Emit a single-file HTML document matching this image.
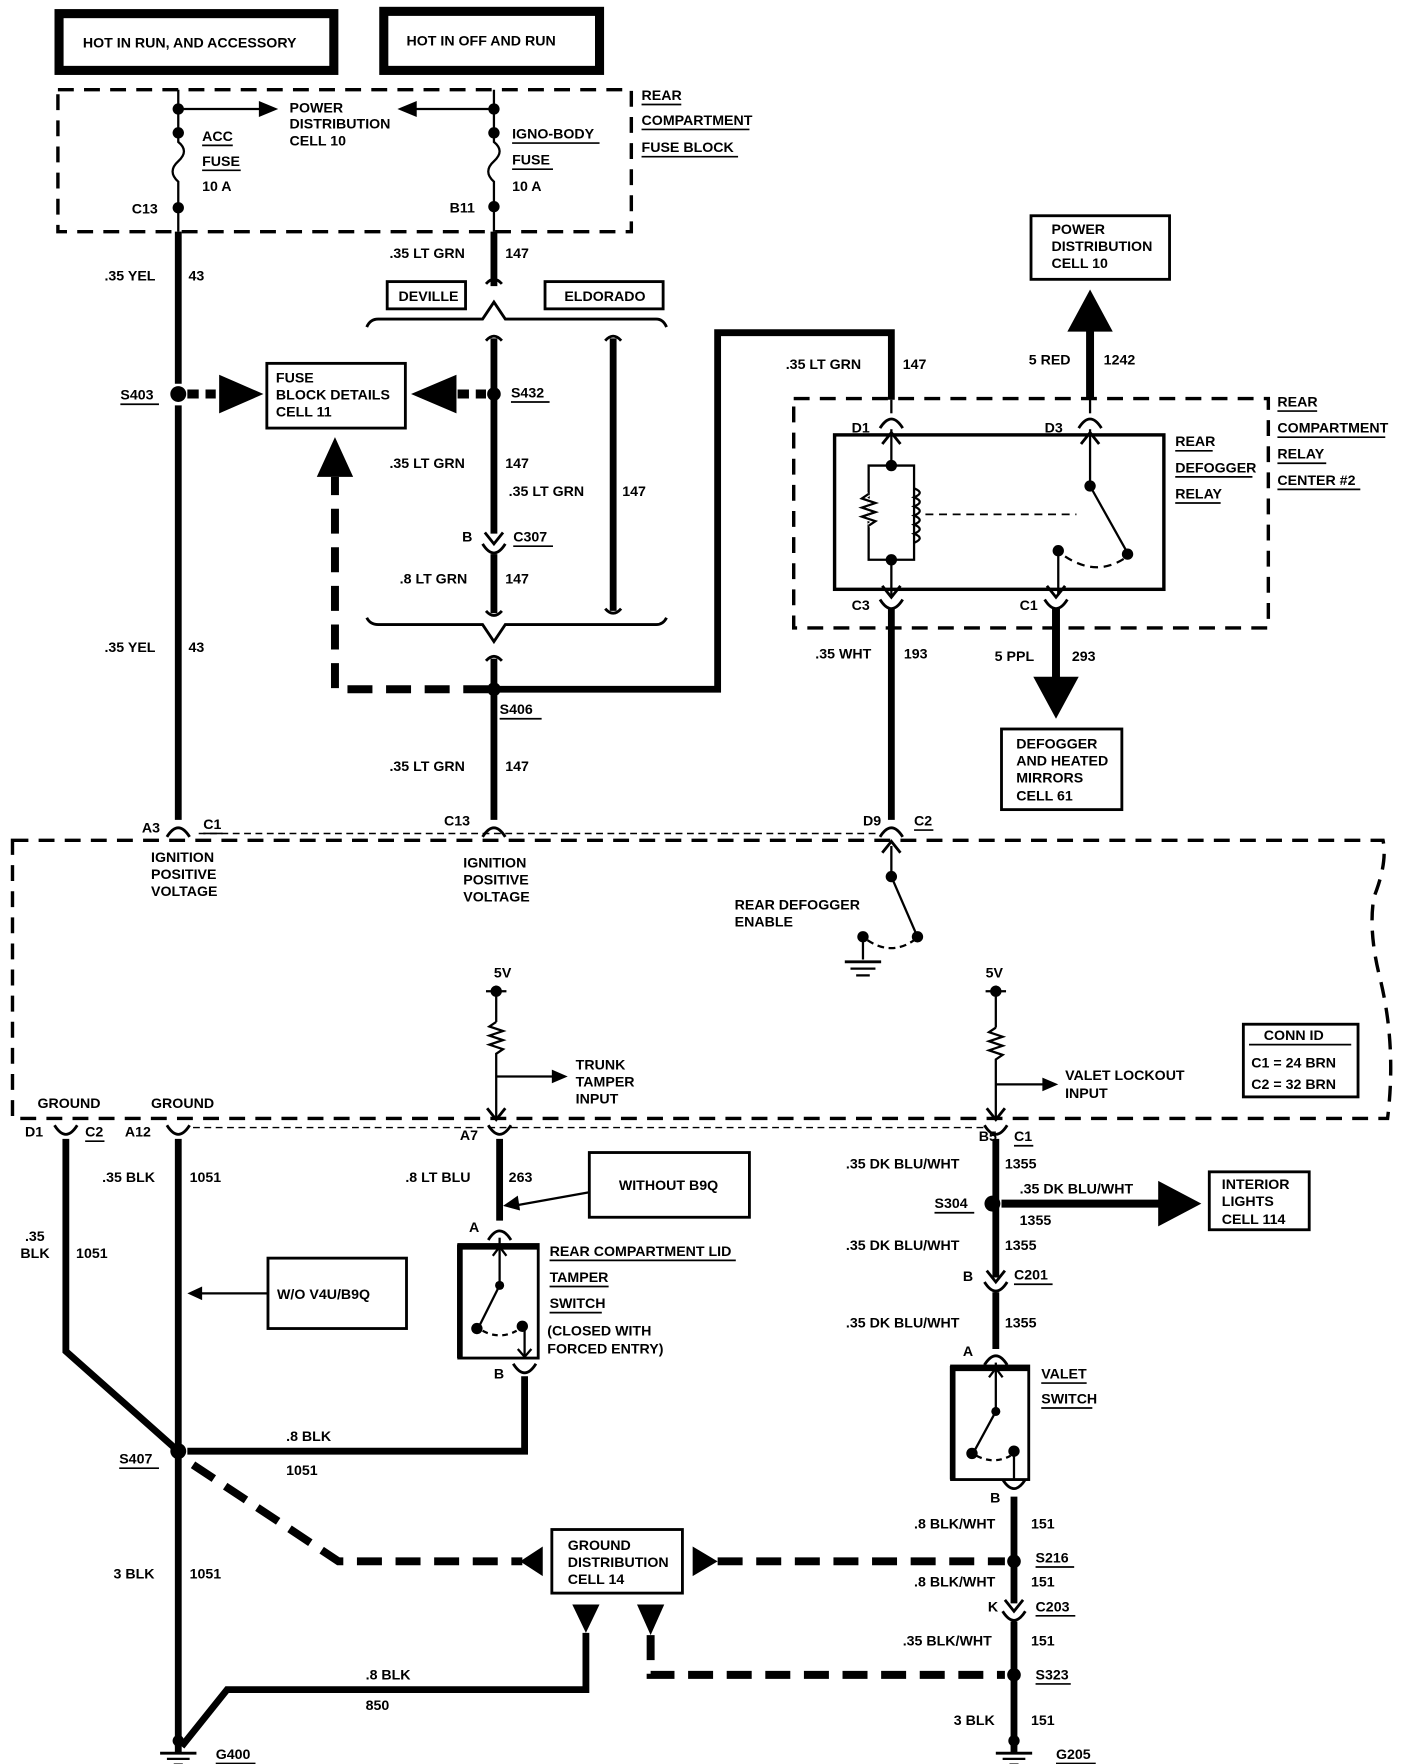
<!DOCTYPE html>
<html><head><meta charset="utf-8"><style>
html,body{margin:0;padding:0;background:#fff;}
svg{display:block;}
text{font-family:"Liberation Sans",sans-serif;font-weight:bold;font-size:12.5px;fill:#000;}
</style></head><body>
<svg width="1408" height="1764" viewBox="0 0 1240 1553.5" preserveAspectRatio="none" xmlns="http://www.w3.org/2000/svg">
<defs>
<g id="fem"><path d="M-10,7 Q0,-9 10,7" fill="none" stroke="#000" stroke-width="2.5"/></g>
<g id="male"><path d="M-8,-6 L0,4 L8,-6" fill="none" stroke="#000" stroke-width="2.5"/></g>
<g id="gnd"><line x1="0" y1="0" x2="0" y2="14" stroke="#000" stroke-width="6"/><circle cx="0" cy="3" r="5"/><line x1="-16" y1="14" x2="16" y2="14" stroke="#000" stroke-width="2.5"/><line x1="-10" y1="19" x2="10" y2="19" stroke="#000" stroke-width="2"/><line x1="-4" y1="24" x2="4" y2="24" stroke="#000" stroke-width="2"/></g>
</defs>
<g fill="none" stroke="#000">
<!-- top boxes -->
<rect x="52" y="12" width="242" height="50" stroke-width="8"/>
<rect x="338" y="10" width="190" height="52" stroke-width="8"/>
<!-- fuse block dashed -->
<rect x="51" y="79" width="505" height="125" stroke-width="3" stroke-dasharray="14 9"/>
<!-- left fuse wire -->
<path d="M157,79 V125 Q167,133 157,142 Q147,151 157,160 V204" stroke-width="2"/>
<path d="M435,79 V125 Q445,133 435,142 Q425,151 435,160 V204" stroke-width="2"/>
<line x1="157" y1="96" x2="232" y2="96" stroke-width="2"/>
<line x1="435" y1="96" x2="363" y2="96" stroke-width="2"/>
<!-- thick wires -->
<line x1="157" y1="204" x2="157" y2="338" stroke-width="6"/>
<line x1="157" y1="357" x2="157" y2="722" stroke-width="6"/>
<line x1="435" y1="204" x2="435" y2="252" stroke-width="6"/>
<path d="M428,250 Q435,242 442,250" stroke-width="2.5"/>
<path d="M323,288 Q326,281 333,281 H425 L435,266 L445,281 H578 Q584,281 587,288" stroke-width="2.5"/>
<path d="M428,300 Q435,292 442,300" stroke-width="2.5"/>
<line x1="435" y1="298" x2="435" y2="470" stroke-width="6"/>
<line x1="435" y1="488" x2="435" y2="540" stroke-width="6"/>
<line x1="540" y1="298" x2="540" y2="538" stroke-width="6"/>
<path d="M533,300 Q540,292 547,300" stroke-width="2.5"/>
<path d="M428,538 Q435,546 442,538" stroke-width="2.5"/>
<path d="M533,536 Q540,544 547,536" stroke-width="2.5"/>
<path d="M323,544 Q326,550 333,550 H425 L435,565 L445,550 H578 Q584,550 587,544" stroke-width="2.5"/>
<path d="M428,582 Q435,574 442,582" stroke-width="2.5"/>
<line x1="435" y1="580" x2="435" y2="722" stroke-width="6"/>
<polyline points="435,607 632,607 632,293 785,293 785,352" stroke-width="6"/>
<!-- dashed S403 / S432 -->
<line x1="165" y1="347" x2="190" y2="347" stroke-width="8" stroke-dasharray="10 6"/>
<line x1="403" y1="347" x2="428" y2="347" stroke-width="8" stroke-dasharray="10 6"/>
<polyline points="430,607 295,607 295,420" stroke-width="7" stroke-dasharray="22 12"/>
<rect x="235" y="320" width="122" height="57" stroke-width="2.5"/>
<!-- DEVILLE / ELDORADO -->
<rect x="341" y="248" width="69" height="24" stroke-width="2.5"/>
<rect x="480" y="248" width="104" height="24" stroke-width="2.5"/>
<!-- relay -->
<rect x="699" y="351" width="418" height="202" stroke-width="3" stroke-dasharray="14 9"/>
<rect x="735" y="383" width="290" height="136" stroke-width="3"/>
<line x1="960" y1="290" x2="960" y2="352" stroke-width="7"/>
<line x1="785" y1="352" x2="785" y2="364" stroke-width="2"/>
<line x1="960" y1="352" x2="960" y2="364" stroke-width="2"/>
<line x1="785" y1="378" x2="785" y2="410" stroke-width="2"/>
<path d="M785,410 H765 V493 H805 V410 H785" stroke-width="2"/>
<path d="M765,435 l-6,4 l12,4 l-12,4 l12,4 l-12,4 l12,4 l-6,4" stroke="#fff" stroke-width="4"/>
<path d="M765,435 l-6,4 l12,4 l-12,4 l12,4 l-12,4 l12,4 l-6,4" stroke-width="2"/>
<path d="M805,430 q10,4 0,8 q10,4 0,8 q10,4 0,8 q10,4 0,8 q10,4 0,8 q10,4 0,8" stroke-width="2"/>
<line x1="815" y1="453" x2="948" y2="453" stroke-width="1.5" stroke-dasharray="7 5"/>
<line x1="785" y1="493" x2="785" y2="524" stroke-width="2"/>
<line x1="960" y1="378" x2="960" y2="428" stroke-width="2"/>
<line x1="960" y1="428" x2="993" y2="487" stroke-width="2"/>
<path d="M938,490 Q965,508 990,492" stroke-width="2" stroke-dasharray="7 5"/>
<line x1="932" y1="485" x2="932" y2="524" stroke-width="2"/>
<line x1="785" y1="535" x2="785" y2="722" stroke-width="6"/>
<line x1="930" y1="535" x2="930" y2="597" stroke-width="7"/>
<rect x="908" y="190" width="122" height="56" stroke-width="2.5"/>
<rect x="882" y="642" width="106" height="71" stroke-width="2.5"/>
<!-- big module -->
<path d="M11,740 H1218 Q1222,760 1210,790 Q1205,820 1215,860 Q1230,920 1222,985 H11 Z" stroke-width="3" stroke-dasharray="14 9"/>
<line x1="175" y1="734" x2="775" y2="734" stroke-width="1.3" stroke-dasharray="6 4"/>
<line x1="170" y1="993" x2="870" y2="993" stroke-width="1.3" stroke-dasharray="6 4"/>
<line x1="785" y1="745" x2="785" y2="772" stroke-width="2"/>
<line x1="785" y1="772" x2="808" y2="825" stroke-width="2"/>
<path d="M764,828 Q785,842 805,828" stroke-width="2" stroke-dasharray="6 4"/>
<line x1="760" y1="825" x2="760" y2="845" stroke-width="2"/>
<line x1="744" y1="847" x2="776" y2="847" stroke-width="2.5"/>
<line x1="749" y1="853" x2="771" y2="853" stroke-width="2"/>
<line x1="754" y1="859" x2="766" y2="859" stroke-width="2"/>
<!-- 5V trunk -->
<line x1="437" y1="868" x2="437" y2="900" stroke-width="2"/>
<line x1="428" y1="873" x2="446" y2="873" stroke-width="2"/>
<path d="M437,900 l-6,4 l12,4 l-12,4 l12,4 l-12,4 l12,4 l-6,4 V985" stroke-width="2"/>
<line x1="437" y1="948" x2="488" y2="948" stroke-width="2"/>
<line x1="877" y1="868" x2="877" y2="905" stroke-width="2"/>
<line x1="868" y1="873" x2="886" y2="873" stroke-width="2"/>
<path d="M877,905 l-6,4 l12,4 l-12,4 l12,4 l-12,4 l12,4 l-6,4 V985" stroke-width="2"/>
<line x1="877" y1="955" x2="920" y2="955" stroke-width="2"/>
<rect x="1095" y="902" width="101" height="64" stroke-width="2.5"/>
<!-- bottom left -->
<polyline points="58,1003 58,1190 157,1278" stroke-width="6"/>
<line x1="157" y1="1003" x2="157" y2="1538" stroke-width="6"/>
<polyline points="165,1278 462,1278 462,1212" stroke-width="6"/>
<rect x="236" y="1108" width="122" height="62" stroke-width="2.5"/>
<line x1="236" y1="1139" x2="175" y2="1139" stroke-width="2"/>
<line x1="440" y1="1003" x2="440" y2="1075" stroke-width="6"/>
<rect x="519" y="1015" width="141" height="57" stroke-width="2.5"/>
<line x1="519" y1="1050" x2="452" y2="1062" stroke-width="2"/>
<rect x="404" y="1096" width="70" height="100" stroke-width="2.5"/>
<line x1="404" y1="1098" x2="474" y2="1098" stroke-width="5"/>
<line x1="405" y1="1096" x2="405" y2="1196" stroke-width="5"/>
<line x1="440" y1="1090" x2="440" y2="1132" stroke-width="2"/>
<line x1="440" y1="1132" x2="422" y2="1168" stroke-width="2"/>
<path d="M425,1172 Q440,1180 455,1172" stroke-width="2" stroke-dasharray="5 4"/>
<line x1="462" y1="1168" x2="462" y2="1195" stroke-width="2"/>
<path d="M456,1188 L462,1195 L468,1188" stroke-width="2"/>
<path d="M434,1106 L440,1098 L446,1106" stroke-width="2"/>
<polyline points="170,1290 298,1375 460,1375" stroke-width="7" stroke-dasharray="22 12"/>
<rect x="486" y="1347" width="115" height="56" stroke-width="2.5"/>
<line x1="632" y1="1375" x2="885" y2="1375" stroke-width="7" stroke-dasharray="22 12"/>
<polyline points="516,1438 516,1488 200,1488 160,1538" stroke-width="6"/>
<polyline points="573,1440 573,1475 885,1475" stroke-width="7" stroke-dasharray="22 12"/>
<!-- right column -->
<line x1="877" y1="1003" x2="877" y2="1125" stroke-width="6"/>
<line x1="882" y1="1060" x2="1022" y2="1060" stroke-width="7"/>
<rect x="1065" y="1032" width="88" height="51" stroke-width="2.5"/>
<line x1="877" y1="1138" x2="877" y2="1188" stroke-width="6"/>
<rect x="838" y="1203" width="68" height="100" stroke-width="2.5"/>
<line x1="838" y1="1205" x2="906" y2="1205" stroke-width="5"/>
<line x1="839" y1="1203" x2="839" y2="1303" stroke-width="5"/>
<line x1="877" y1="1200" x2="877" y2="1243" stroke-width="2"/>
<line x1="877" y1="1243" x2="858" y2="1278" stroke-width="2"/>
<path d="M860,1282 Q875,1290 890,1282" stroke-width="2" stroke-dasharray="5 4"/>
<line x1="893" y1="1278" x2="893" y2="1302" stroke-width="2"/>
<path d="M871,1213 L877,1205 L883,1213" stroke-width="2"/>
<line x1="893" y1="1318" x2="893" y2="1412" stroke-width="6"/>
<line x1="893" y1="1428" x2="893" y2="1538" stroke-width="6"/>
</g>
<!-- connectors -->
<use href="#fem" x="157" y="730"/><use href="#fem" x="435" y="730"/><use href="#fem" x="785" y="730"/>
<use href="#male" x="785" y="745" transform="rotate(180 785 745)"/>
<use href="#fem" x="785" y="370"/><use href="#fem" x="960" y="370"/>
<use href="#male" x="785" y="385" transform="rotate(180 785 385)"/><use href="#male" x="960" y="385" transform="rotate(180 960 385)"/>
<use href="#male" x="785" y="522"/><use href="#male" x="930" y="522"/>
<g transform="translate(785,535) scale(1,-1)"><use href="#fem"/></g>
<g transform="translate(930,535) scale(1,-1)"><use href="#fem"/></g>
<g transform="translate(435,478)"><use href="#male" transform="translate(0,-3)"/><g transform="translate(0,8) scale(1,-1)"><use href="#fem"/></g></g>
<g transform="translate(58,998) scale(1,-1)"><use href="#fem"/></g>
<g transform="translate(157,998) scale(1,-1)"><use href="#fem"/></g>
<g transform="translate(440,998) scale(1,-1)"><use href="#fem"/></g>
<g transform="translate(877,998) scale(1,-1)"><use href="#fem"/></g>
<use href="#male" x="437" y="982"/><use href="#male" x="877" y="982"/>
<use href="#fem" x="440" y="1085"/>
<g transform="translate(462,1208) scale(1,-1)"><use href="#fem"/></g>
<g transform="translate(877,1128)"><use href="#male" transform="translate(0,-3)"/><g transform="translate(0,8) scale(1,-1)"><use href="#fem"/></g></g>
<use href="#fem" x="877" y="1195"/>
<g transform="translate(893,1310) scale(1,-1)"><use href="#fem"/></g>
<g transform="translate(893,1418)"><use href="#male" transform="translate(0,-3)"/><g transform="translate(0,8) scale(1,-1)"><use href="#fem"/></g></g>
<!-- dots -->
<g fill="#000">
<circle cx="157" cy="96" r="5"/><circle cx="157" cy="117" r="5"/><circle cx="157" cy="183" r="5"/>
<circle cx="435" cy="96" r="5"/><circle cx="435" cy="117" r="5"/><circle cx="435" cy="182" r="5"/>
<circle cx="157" cy="347" r="7"/><circle cx="435" cy="347" r="6"/><circle cx="435" cy="607" r="6"/>
<circle cx="785" cy="410" r="5"/><circle cx="785" cy="493" r="5"/><circle cx="960" cy="428" r="5"/><circle cx="993" cy="488" r="5"/><circle cx="932" cy="485" r="5"/>
<circle cx="785" cy="772" r="5"/><circle cx="808" cy="825" r="5"/><circle cx="760" cy="825" r="5"/>
<circle cx="437" cy="873" r="5"/><circle cx="877" cy="873" r="5"/>
<circle cx="157" cy="1278" r="7"/><circle cx="874" cy="1060" r="7"/><circle cx="893" cy="1375" r="6"/><circle cx="893" cy="1475" r="6"/>
<circle cx="440" cy="1132" r="4"/><circle cx="420" cy="1170" r="5"/><circle cx="460" cy="1168" r="5"/>
<circle cx="877" cy="1243" r="4"/><circle cx="856" cy="1280" r="5"/><circle cx="893" cy="1278" r="5"/>
<!-- arrows -->
<polygon points="245,96 228,89 228,103"/><polygon points="350,96 367,89 367,103"/>
<polygon points="232,347 193,330 193,364"/><polygon points="362,347 402,330 402,364"/>
<polygon points="295,385 279,420 311,420"/>
<polygon points="960,255 940,292 980,292"/>
<polygon points="930,633 910,596 950,596"/>
<polygon points="500,948 486,942 486,954"/><polygon points="932,955 918,949 918,961"/>
<polygon points="165,1139 178,1133 178,1145"/><polygon points="443,1062 456,1053 458,1066"/>
<polygon points="1058,1060 1020,1040 1020,1080"/>
<polygon points="458,1375 478,1362 478,1388"/><polygon points="632,1375 610,1362 610,1388"/>
<polygon points="516,1438 504,1413 528,1413"/><polygon points="573,1440 561,1413 585,1413"/>
</g>
<use href="#gnd" x="157" y="1530"/><use href="#gnd" x="893" y="1530"/>
<!-- text -->
<text x="73" y="42">HOT IN RUN, AND ACCESSORY</text>
<text x="358" y="40">HOT IN OFF AND RUN</text>
<text x="255" y="99">POWER</text><text x="255" y="113">DISTRIBUTION</text><text x="255" y="128">CELL  10</text>
<text x="178" y="124">ACC</text><text x="178" y="146">FUSE</text><text x="178" y="168">10 A</text>
<text x="451" y="122">IGNO-BODY</text><text x="451" y="145">FUSE</text><text x="451" y="168">10 A</text>
<text x="116" y="188">C13</text><text x="396" y="187">B11</text>
<text x="565" y="88">REAR</text><text x="565" y="110">COMPARTMENT</text><text x="565" y="134">FUSE BLOCK</text>
<text x="92" y="247">.35 YEL</text><text x="166" y="247">43</text>
<text x="343" y="227">.35 LT GRN</text><text x="445" y="227">147</text>
<text x="351" y="265">DEVILLE</text><text x="497" y="265">ELDORADO</text>
<text x="106" y="352">S403</text><text x="450" y="350">S432</text>
<text x="243" y="337">FUSE</text><text x="243" y="352">BLOCK DETAILS</text><text x="243" y="367">CELL  11</text>
<text x="343" y="412">.35 LT GRN</text><text x="445" y="412">147</text>
<text x="448" y="437">.35 LT GRN</text><text x="548" y="437">147</text>
<text x="407" y="477">B</text><text x="452" y="477">C307</text>
<text x="352" y="514">.8 LT GRN</text><text x="445" y="514">147</text>
<text x="92" y="574">.35 YEL</text><text x="166" y="574">43</text>
<text x="440" y="629">S406</text>
<text x="343" y="679">.35 LT GRN</text><text x="445" y="679">147</text>
<text x="125" y="733">A3</text><text x="179" y="730">C1</text><text x="391" y="727">C13</text>
<text x="760" y="727">D9</text><text x="805" y="727">C2</text>
<text x="133" y="759">IGNITION</text><text x="133" y="774">POSITIVE</text><text x="133" y="789">VOLTAGE</text>
<text x="408" y="764">IGNITION</text><text x="408" y="779">POSITIVE</text><text x="408" y="794">VOLTAGE</text>
<text x="692" y="325">.35 LT GRN</text><text x="795" y="325">147</text>
<text x="906" y="321">5 RED</text><text x="972" y="321">1242</text>
<text x="926" y="206">POWER</text><text x="926" y="221">DISTRIBUTION</text><text x="926" y="236">CELL  10</text>
<text x="750" y="381">D1</text><text x="920" y="381">D3</text>
<text x="1035" y="393">REAR</text><text x="1035" y="416">DEFOGGER</text><text x="1035" y="439">RELAY</text>
<text x="1125" y="358">REAR</text><text x="1125" y="381">COMPARTMENT</text><text x="1125" y="404">RELAY</text><text x="1125" y="427">CENTER #2</text>
<text x="750" y="537">C3</text><text x="898" y="537">C1</text>
<text x="718" y="580">.35 WHT</text><text x="796" y="580">193</text>
<text x="876" y="582">5 PPL</text><text x="944" y="582">293</text>
<text x="895" y="659">DEFOGGER</text><text x="895" y="674">AND HEATED</text><text x="895" y="689">MIRRORS</text><text x="895" y="705">CELL  61</text>
<text x="647" y="801">REAR DEFOGGER</text><text x="647" y="816">ENABLE</text>
<text x="435" y="861">5V</text><text x="868" y="861">5V</text>
<text x="507" y="942">TRUNK</text><text x="507" y="957">TAMPER</text><text x="507" y="972">INPUT</text>
<text x="938" y="951">VALET LOCKOUT</text><text x="938" y="967">INPUT</text>
<text x="1113" y="916">CONN ID</text><text x="1102" y="940">C1 = 24 BRN</text><text x="1102" y="959">C2 = 32 BRN</text>
<text x="33" y="976">GROUND</text><text x="133" y="976">GROUND</text>
<text x="22" y="1001">D1</text><text x="75" y="1001">C2</text><text x="110" y="1001">A12</text><text x="405" y="1004">A7</text>
<text x="862" y="1005">B5</text><text x="893" y="1005">C1</text>
<text x="90" y="1041">.35 BLK</text><text x="167" y="1041">1051</text>
<text x="357" y="1041">.8 LT BLU</text><text x="448" y="1041">263</text>
<text x="545" y="1048">WITHOUT B9Q</text>
<text x="22" y="1093">.35</text><text x="18" y="1108">BLK</text><text x="67" y="1108">1051</text>
<text x="244" y="1144">W/O V4U/B9Q</text>
<text x="413" y="1085">A</text>
<text x="484" y="1106">REAR COMPARTMENT LID</text><text x="484" y="1129">TAMPER</text><text x="484" y="1152">SWITCH</text>
<text x="482" y="1176">(CLOSED WITH</text><text x="482" y="1192">FORCED ENTRY)</text>
<text x="435" y="1214">B</text>
<text x="745" y="1029">.35 DK BLU/WHT</text><text x="885" y="1029">1355</text>
<text x="898" y="1051">.35 DK BLU/WHT</text><text x="898" y="1079">1355</text>
<text x="823" y="1064">S304</text>
<text x="1076" y="1047">INTERIOR</text><text x="1076" y="1062">LIGHTS</text><text x="1076" y="1078">CELL  114</text>
<text x="745" y="1101">.35 DK BLU/WHT</text><text x="885" y="1101">1355</text>
<text x="848" y="1128">B</text><text x="893" y="1127">C201</text>
<text x="745" y="1169">.35 DK BLU/WHT</text><text x="885" y="1169">1355</text>
<text x="848" y="1194">A</text>
<text x="917" y="1214">VALET</text><text x="917" y="1236">SWITCH</text>
<text x="872" y="1323">B</text>
<text x="252" y="1269">.8 BLK</text><text x="252" y="1299">1051</text>
<text x="105" y="1289">S407</text>
<text x="100" y="1390">3 BLK</text><text x="167" y="1390">1051</text>
<text x="500" y="1365">GROUND</text><text x="500" y="1380">DISTRIBUTION</text><text x="500" y="1395">CELL  14</text>
<text x="805" y="1346">.8 BLK/WHT</text><text x="908" y="1346">151</text>
<text x="912" y="1376">S216</text>
<text x="805" y="1397">.8 BLK/WHT</text><text x="908" y="1397">151</text>
<text x="870" y="1419">K</text><text x="912" y="1419">C203</text>
<text x="795" y="1449">.35 BLK/WHT</text><text x="908" y="1449">151</text>
<text x="912" y="1479">S323</text>
<text x="322" y="1479">.8 BLK</text><text x="322" y="1506">850</text>
<text x="840" y="1519">3 BLK</text><text x="908" y="1519">151</text>
<text x="190" y="1549">G400</text><text x="930" y="1549">G205</text>
<!-- underlines -->
<g stroke="#000" stroke-width="1.5">
<line x1="178" y1="128" x2="205" y2="128"/><line x1="178" y1="150" x2="212" y2="150"/>
<line x1="451" y1="126" x2="528" y2="126"/><line x1="451" y1="149" x2="487" y2="149"/>
<line x1="565" y1="92" x2="600" y2="92"/><line x1="565" y1="114" x2="660" y2="114"/><line x1="565" y1="138" x2="650" y2="138"/>
<line x1="106" y1="356" x2="140" y2="356"/><line x1="450" y1="354" x2="484" y2="354"/>
<line x1="452" y1="481" x2="487" y2="481"/><line x1="440" y1="633" x2="477" y2="633"/>
<line x1="805" y1="731" x2="822" y2="731"/><line x1="179" y1="734" x2="196" y2="734"/>
<line x1="1035" y1="397" x2="1068" y2="397"/><line x1="1035" y1="420" x2="1103" y2="420"/><line x1="1035" y1="443" x2="1075" y2="443"/>
<line x1="1125" y1="362" x2="1160" y2="362"/><line x1="1125" y1="385" x2="1220" y2="385"/><line x1="1125" y1="408" x2="1168" y2="408"/><line x1="1125" y1="431" x2="1198" y2="431"/>
<line x1="1100" y1="920" x2="1190" y2="920"/>
<line x1="75" y1="1005" x2="92" y2="1005"/><line x1="893" y1="1009" x2="910" y2="1009"/>
<line x1="484" y1="1110" x2="648" y2="1110"/><line x1="484" y1="1133" x2="536" y2="1133"/><line x1="484" y1="1156" x2="530" y2="1156"/>
<line x1="823" y1="1068" x2="858" y2="1068"/><line x1="893" y1="1131" x2="927" y2="1131"/>
<line x1="917" y1="1218" x2="957" y2="1218"/><line x1="917" y1="1240" x2="962" y2="1240"/>
<line x1="105" y1="1293" x2="140" y2="1293"/>
<line x1="912" y1="1380" x2="946" y2="1380"/><line x1="912" y1="1423" x2="947" y2="1423"/><line x1="912" y1="1483" x2="943" y2="1483"/>
<line x1="190" y1="1553" x2="225" y2="1553"/><line x1="930" y1="1553" x2="965" y2="1553"/>
</g>
</svg>
</body></html>
